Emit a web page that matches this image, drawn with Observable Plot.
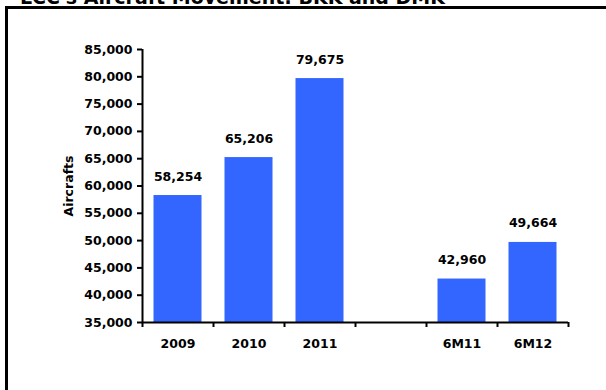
<!DOCTYPE html>
<html>
<head>
<meta charset="utf-8">
<script src="https://cdn.jsdelivr.net/npm/d3@7"></script>
<script src="https://cdn.jsdelivr.net/npm/@observablehq/plot@0.6"></script>
<style>
  body { margin: 0; background: #fff; }
  #wrap { position: relative; width: 606px; height: 390px; overflow: hidden; background: #fff; }
  #title { position: absolute; left: 20px; top: -14px; font: bold 19px "DejaVu Sans", Verdana, sans-serif; line-height: 22px; white-space: nowrap; color: #000; }
  #frame { position: absolute; left: 5px; top: 6px; width: 640px; height: 440px; border: 3px solid #000; box-sizing: border-box; }
  #chart { position: absolute; left: 0; top: 0; }
</style>
</head>
<body>
<div id="wrap">
  <div id="title">LCC's Aircraft Movement: BKK and DMK</div>
  <div id="frame"></div>
  <div id="chart"></div>
</div>
<script>
const categories = ["2009", "2010", "2011", "", "6M11", "6M12"];
const values = [58254, 65206, 79675, null, 42960, 49664];
const yTicks = [35000, 40000, 45000, 50000, 55000, 60000, 65000, 70000, 75000, 80000, 85000];
const yLabel = "Aircrafts";

const data = categories.map((c, i) => ({cat: c, i, value: values[i]})).filter(d => d.value != null);
const fmt = d3.format(",");
const boundaries = d3.range(categories.length + 1);

const chart = Plot.plot({
  width: 606,
  height: 390,
  marginLeft: 142,
  marginRight: 38,
  marginTop: 49,
  marginBottom: 68,
  style: {fontFamily: '"DejaVu Sans", Verdana, sans-serif', fontSize: "12px", fontWeight: "bold", color: "#000", background: "transparent"},
  x: {type: "linear", domain: [0, categories.length], axis: null},
  y: {domain: [35000, 85000], axis: null},
  marks: [
    Plot.rectY(data, {x1: "i", x2: d => d.i + 1, y1: 35000, y2: "value", fill: "#3366FF", insetLeft: 11.5, insetRight: 11.5}),
    Plot.text(data, {x: d => d.i + 0.5, y: "value", text: d => fmt(d.value), dy: -15, lineAnchor: "bottom", fontWeight: "bold", fontSize: 12.5, fill: "#000"}),
    Plot.axisY({ticks: yTicks, tickFormat: fmt, label: null, tickSize: 5, tickPadding: 5, strokeWidth: 2, fontWeight: "bold", fontSize: 12.5, stroke: "#000"}),
    Plot.axisX({ticks: boundaries, tickFormat: () => "", label: null, tickSize: 5, strokeWidth: 2, stroke: "#000"}),
    Plot.ruleX([0], {stroke: "#000", strokeWidth: 2}),
    Plot.ruleY([35000], {stroke: "#000", strokeWidth: 2}),
    Plot.text(categories, {x: (d, i) => i + 0.5, y: 35000, dy: 21, text: d => d, fontWeight: "bold", fontSize: 12.5, fill: "#000"}),
    Plot.text([yLabel], {frameAnchor: "left", textAnchor: "middle", dx: -74, rotate: -90, text: d => d, fontWeight: "bold", fontSize: 12.5, fill: "#000"})
  ]
});
document.getElementById("chart").append(chart);
</script>
</body>
</html>
